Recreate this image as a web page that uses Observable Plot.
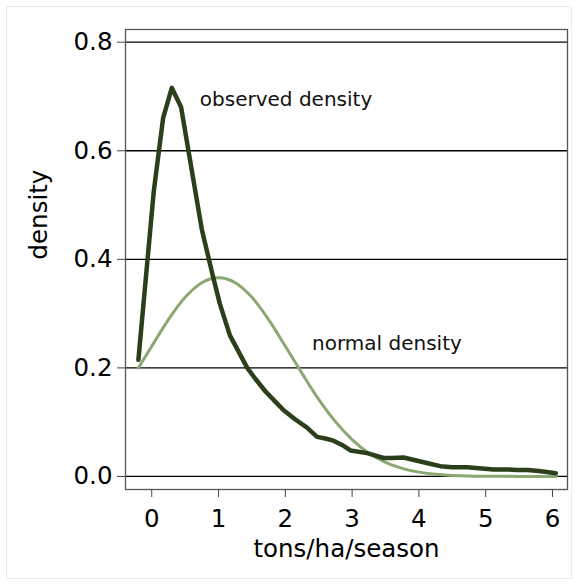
<!DOCTYPE html>
<html>
<head>
<meta charset="utf-8">
<script src="https://cdn.jsdelivr.net/npm/d3@7"></script>
<script src="https://cdn.jsdelivr.net/npm/@observablehq/plot@0.6"></script>
<style>
  html, body { margin: 0; padding: 0; background: #fff; }
  #wrap { position: relative; width: 579px; height: 586px; }
  #box { position: absolute; left: 6px; top: 6px; width: 566px; height: 573px; border: 1px solid #e4eeee; box-sizing: border-box; pointer-events: none; }
  #chart { position: absolute; left: 0; top: 0; }
</style>
</head>
<body>
<div id="wrap"><div id="box"></div><div id="chart"></div></div>
<script>
// observed density (kernel estimate)
const obsX = [-0.2, 0.03, 0.17, 0.30, 0.44, 0.55, 0.66, 0.75, 0.875, 0.92, 1.02, 1.17, 1.30, 1.43, 1.55, 1.70, 1.85, 1.975, 2.15, 2.325, 2.475, 2.60, 2.72, 2.85, 2.975, 3.225, 3.47, 3.60, 3.77, 3.975, 4.15, 4.32, 4.50, 4.725, 4.90, 5.12, 5.30, 5.475, 5.625, 5.80, 6.05];
const obsY = [0.215, 0.525, 0.66, 0.716, 0.68, 0.60, 0.52, 0.455, 0.39, 0.367, 0.318, 0.26, 0.23, 0.20, 0.18, 0.157, 0.138, 0.122, 0.105, 0.09, 0.073, 0.07, 0.066, 0.058, 0.048, 0.043, 0.034, 0.034, 0.035, 0.029, 0.024, 0.019, 0.017, 0.017, 0.015, 0.013, 0.013, 0.012, 0.012, 0.010, 0.006];
// normal density
const normX = [-0.2, 0.0, 0.25, 0.5, 0.75, 1.0, 1.25, 1.5, 1.75, 2.0, 2.25, 2.5, 2.75, 3.0, 3.25, 3.5, 3.75, 4.0, 4.5, 5.0, 5.5, 6.05];
const normY = [0.200, 0.240, 0.289, 0.330, 0.357, 0.366, 0.357, 0.330, 0.289, 0.240, 0.190, 0.142, 0.101, 0.068, 0.043, 0.026, 0.015, 0.008, 0.002, 0.0004, 0.0001, 0.0];
const xTicks = [0, 1, 2, 3, 4, 5, 6];
const yTicks = [0, 0.2, 0.4, 0.6, 0.8];
const labels = [
  {text: "observed density", x: 0.72, y: 0.695},
  {text: "normal density", x: 2.4, y: 0.245}
];

const observed = obsX.map((x, i) => ({x, y: obsY[i]}));
const normal = normX.map((x, i) => ({x, y: normY[i]}));

const plot = Plot.plot({
  width: 579,
  height: 586,
  marginLeft: 125,
  marginRight: 12,
  marginTop: 29,
  marginBottom: 97,
  style: {fontFamily: "DejaVu Sans, Verdana, sans-serif", fontSize: "24px", color: "#000", background: "transparent"},
  x: {domain: [-0.393, 6.225], label: null},
  y: {domain: [-0.024, 0.8234], label: null},
  marks: [
    Plot.ruleY(yTicks, {stroke: "#000", strokeWidth: 1.3}),
    Plot.frame({stroke: "#555", strokeWidth: 1.3}),
    Plot.line(normal, {x: "x", y: "y", stroke: "#8aa872", strokeWidth: 3, curve: "monotone-x"}),
    Plot.line(observed, {x: "x", y: "y", stroke: "#2b3f1b", strokeWidth: 4.5, curve: "linear", strokeLinejoin: "round"}),
    Plot.text(labels, {x: "x", y: "y", text: "text", textAnchor: "start", fontSize: 20, fill: "#111"}),
    Plot.axisX(xTicks, {tickSize: 8, tickPadding: 12, stroke: "#444", fontSize: 24.5}),
    Plot.axisY(yTicks, {tickSize: 8, tickPadding: 5, tickFormat: d3.format(".1f"), stroke: "#444", fontSize: 24.5}),
    Plot.text(["tons/ha/season"], {frameAnchor: "bottom", dy: 67, fontSize: 24.5}),
    Plot.text(["density"], {frameAnchor: "left", dx: -86, rotate: -90, fontSize: 24.5})
  ]
});
document.getElementById("chart").appendChild(plot);
</script>
</body>
</html>
